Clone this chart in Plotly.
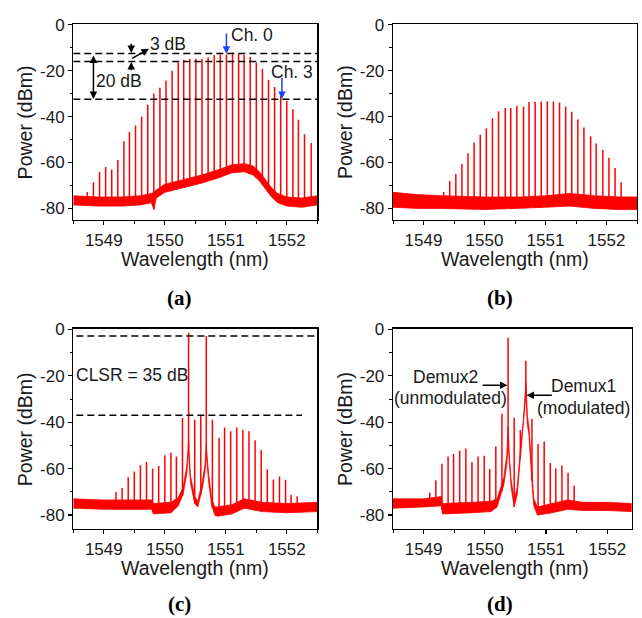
import numpy as np
import plotly.graph_objects as go

W, H = 642, 618
RED = "#ff0000"
BLUE = "#1f3fff"
FONT = "Liberation Sans, Arial, sans-serif"

# ---------------- data ----------------
x_tick_vals = [1549, 1550, 1551, 1552]
x_tick_text = ["1549", "1550", "1551", "1552"]
x_minor_vals = [1548.5, 1549.5, 1550.5, 1551.5, 1552.5]
y_tick_vals = [0, -20, -40, -60, -80]
y_tick_text = ["0", "-20", "-40", "-60", "-80"]
y_minor_vals = [-10, -30, -50, -70]

# (a) comb lines
wl_a = [1548.73, 1548.83, 1548.93, 1549.03, 1549.13, 1549.23, 1549.33, 1549.42, 1549.52,
        1549.62, 1549.72, 1549.82, 1549.92, 1550.02, 1550.12, 1550.22, 1550.31, 1550.41,
        1550.51, 1550.61, 1550.71, 1550.81, 1550.91, 1551.01, 1551.11, 1551.21, 1551.30,
        1551.40, 1551.50, 1551.60, 1551.70, 1551.80, 1551.90, 1552.00, 1552.10, 1552.19,
        1552.29, 1552.40]
pk_a = [-72.9, -68.6, -64.2, -62.0, -63.1, -58.9, -50.7, -46.7, -43.9, -40.0, -34.9, -29.9,
        -27.4, -24.3, -20.0, -16.4, -15.3, -14.9, -14.8, -14.8, -14.3, -13.2, -13.0, -13.0,
        -12.0, -12.6, -13.1, -14.1, -16.4, -19.2, -24.0, -27.1, -31.0, -33.1, -36.8, -41.4,
        -47.7, -51.5]
# (a) noise floor envelope
env_a_wl = [1548.5, 1548.9, 1549.3, 1549.6, 1549.78, 1549.82, 1549.86, 1550.0, 1550.3, 1550.6,
            1550.9, 1551.1, 1551.3, 1551.45, 1551.55, 1551.65, 1551.75, 1551.85, 1552.0,
            1552.25, 1552.5]
env_a_hi = [-74.5, -75, -75, -74.5, -73.5, -73, -72, -69.5, -67.5, -65.5, -63, -61, -60.5,
            -61.5, -64, -67.5, -71, -73.5, -75, -75.5, -74.5]
env_a_lo = [-78.5, -79, -79, -78.5, -77.5, -80.5, -75.5, -73, -71, -69, -66.5, -64.5, -64,
            -65.5, -68, -71.5, -75, -77.5, -79, -79.5, -78.5]
ref_a = [-12.5, -16.0, -32.5]

# (b) comb lines
wl_b = [1549.33, 1549.43, 1549.53, 1549.63, 1549.73, 1549.83, 1549.93, 1550.03, 1550.13,
        1550.23, 1550.34, 1550.43, 1550.53, 1550.64, 1550.73, 1550.83, 1550.93, 1551.03,
        1551.13, 1551.23, 1551.33, 1551.43, 1551.53, 1551.63, 1551.74, 1551.83, 1551.94,
        1552.04, 1552.14, 1552.24]
pk_b = [-72.9, -68.1, -65.0, -60.6, -56.0, -51.3, -47.9, -45.1, -40.7, -37.7, -36.3, -36.3,
        -35.4, -35.7, -33.7, -33.6, -33.4, -33.3, -33.4, -33.9, -35.6, -37.9, -41.3, -44.8,
        -48.6, -51.7, -54.6, -57.9, -62.4, -68.6]
env_b_wl = [1548.5, 1548.9, 1549.3, 1550.0, 1550.6, 1551.0, 1551.4, 1551.8, 1552.2, 1552.5]
env_b_hi = [-73, -74, -74.5, -75, -75, -74.5, -73.5, -74.5, -75, -75]
env_b_lo = [-79.5, -80, -80, -80.5, -80, -79.5, -79, -80, -80.5, -80.5]

# (c) comb lines
wl_c = [1549.20, 1549.30, 1549.40, 1549.50, 1549.60, 1549.70, 1549.80, 1549.90, 1550.00,
        1550.10, 1550.19, 1550.29, 1550.39, 1550.49, 1550.59, 1550.68, 1550.78, 1550.89,
        1550.98, 1551.08, 1551.18, 1551.28, 1551.38, 1551.48, 1551.58, 1551.68, 1551.78,
        1551.88, 1551.98, 1552.07, 1552.17]
pk_c = [-70.1, -68.3, -63.7, -61.2, -58.5, -57.1, -59.9, -58.8, -54.2, -53.1, -54.8, -38.2,
        -1.4, -38.9, -37.1, -2.8, -38.9, -46.7, -42.2, -43.9, -42.2, -43.2, -43.9, -47.7,
        -52.0, -60.2, -64.7, -63.4, -64.8, -71.2, -71.9]
env_c_wl = [1548.5, 1549.0, 1549.5, 1549.79, 1549.81, 1550.1, 1550.22, 1550.30, 1550.36,
            1550.39, 1550.42, 1550.49, 1550.54, 1550.62, 1550.66, 1550.68, 1550.72, 1550.77,
            1550.82, 1550.86, 1551.1, 1551.3, 1551.6, 1552.0, 1552.5]
env_c_hi = [-73, -73.5, -73.5, -73.5, -75, -74.5, -72.5, -68, -59, -48, -63, -72, -74, -65,
            -58, -50, -63, -73, -76.5, -76.5, -75.5, -73, -74.5, -75, -74.5]
env_c_lo = [-77, -77.5, -77.5, -77.5, -79.5, -79, -76, -71, -62, -52, -66, -75, -76.5, -68,
            -61, -54, -66, -76, -80, -80.5, -79.5, -77, -78.5, -79, -78.5]
ref_c = [-2.8, -37.0]

# (d) comb lines
wl_d = [1549.10, 1549.20, 1549.30, 1549.40, 1549.49, 1549.59, 1549.69, 1549.79, 1549.89,
        1549.99, 1550.08, 1550.18, 1550.28, 1550.38, 1550.48, 1550.58, 1550.67, 1550.77,
        1550.87, 1550.97, 1551.07, 1551.16, 1551.26, 1551.36, 1551.46]
pk_d = [-70.3, -65.0, -57.9, -54.8, -53.7, -52.3, -51.3, -57.2, -54.8, -54.4, -60.1, -50.4,
        -36.3, -3.6, -38.1, -43.3, -13.5, -38.5, -49.4, -48.3, -57.5, -59.8, -58.6, -61.8,
        -67.2]
env_d_wl = [1548.5, 1549.0, 1549.29, 1549.31, 1549.8, 1550.1, 1550.20, 1550.31, 1550.36,
            1550.38, 1550.40, 1550.43, 1550.48, 1550.53, 1550.585, 1550.63, 1550.655, 1550.673,
            1550.695, 1550.72, 1550.75, 1550.776, 1550.80, 1550.86, 1551.1, 1551.35, 1551.6,
            1552.0, 1552.4]
env_d_hi = [-73, -73, -72, -75, -74.5, -74, -73, -64, -54, -42, -54, -65, -73.5, -68, -51, -39,
            -29, -23, -37, -42, -53, -65, -73, -76.5, -75, -73.5, -74.5, -74.5, -75]
env_d_lo = [-77, -76.5, -76, -79.5, -79, -78.5, -76.5, -67, -58, -49, -58, -68, -76.5, -71, -54,
            -42, -33, -28, -41, -45, -56, -68, -76, -80, -79, -77.5, -78, -78, -78.5]

# ---------------- layout geometry (pixels) ----------------
def px_x(p):
    return p / W

def px_y(p):
    return 1 - p / H

panels = [
    dict(wl=wl_a, pk=pk_a, ew=env_a_wl, eh=env_a_hi, el=env_a_lo,
         xd=(73.3, 317.3), yd=(15.5, 214.0), xr=(1548.5, 1552.5), yr=(-85, 0.2),
         label="(a)", label_y=293.3),
    dict(wl=wl_b, pk=pk_b, ew=env_b_wl, eh=env_b_hi, el=env_b_lo,
         xd=(393.0, 637.0), yd=(15.5, 214.0), xr=(1548.5, 1552.5), yr=(-85, 0.2),
         label="(b)", label_y=293.3),
    dict(wl=wl_c, pk=pk_c, ew=env_c_wl, eh=env_c_hi, el=env_c_lo,
         xd=(73.3, 317.3), yd=(324.5, 527.7), xr=(1548.5, 1552.5), yr=(-86, 0.3),
         label="(c)", label_y=604.0),
    dict(wl=wl_d, pk=pk_d, ew=env_d_wl, eh=env_d_hi, el=env_d_lo,
         xd=(393.0, 631.7), yd=(324.5, 527.7), xr=(1548.5, 1552.4), yr=(-86, 0.3),
         label="(d)", label_y=604.0),
]

fig = go.Figure()
annotations = []
shapes = []

tickfont = dict(family=FONT, size=17, color="#1a1a1a")

for i, p in enumerate(panels):
    n = "" if i == 0 else str(i + 1)
    xa, ya = "x" + n, "y" + n
    # noise floor band
    fig.add_trace(go.Scatter(
        x=list(p["ew"]) + list(p["ew"])[::-1],
        y=list(p["eh"]) + list(p["el"])[::-1],
        fill="toself", fillcolor=RED, mode="lines",
        line=dict(color=RED, width=0.8), xaxis=xa, yaxis=ya,
        showlegend=False, hoverinfo="skip"))
    # comb lines
    base = np.interp(p["wl"], p["ew"], p["el"])
    xs, ys = [], []
    for w, pk, b in zip(p["wl"], p["pk"], base):
        xs += [w, w, None]
        ys += [b, pk, None]
    fig.add_trace(go.Scatter(x=xs, y=ys, mode="lines",
                             line=dict(color=RED, width=1.5),
                             xaxis=xa, yaxis=ya, showlegend=False, hoverinfo="skip"))

    axis_common = dict(showline=True, mirror=True, linecolor="black", linewidth=1.3,
                       showgrid=False, zeroline=False, ticks="outside", ticklen=4,
                       tickwidth=1.2, tickcolor="black", tickfont=tickfont)
    fig.layout["xaxis" + n] = dict(
        domain=[px_x(p["xd"][0]), px_x(p["xd"][1])], range=list(p["xr"]),
        anchor=ya, tickmode="array", tickvals=x_tick_vals, ticktext=x_tick_text,
        minor=dict(tickvals=x_minor_vals, ticks="outside", ticklen=2.5, tickcolor="black",
                   tickwidth=1),
        **axis_common)
    fig.layout["yaxis" + n] = dict(
        domain=[px_y(p["yd"][1]), px_y(p["yd"][0])], range=list(p["yr"]),
        anchor=xa, tickmode="array", tickvals=y_tick_vals, ticktext=y_tick_text,
        minor=dict(tickvals=y_minor_vals, ticks="outside", ticklen=2.5, tickcolor="black",
                   tickwidth=1),
        **axis_common)

    yc = (p["yd"][0] + p["yd"][1]) / 2
    annotations.append(dict(text="Wavelength (nm)", xref="paper", yref="paper",
                            x=px_x(p["xd"][0] + 122), y=px_y(p["yd"][1] + 39.5),
                            showarrow=False, xanchor="center", yanchor="middle",
                            font=dict(family=FONT, size=19.5, color="#1a1a1a")))
    annotations.append(dict(text="Power (dBm)", xref="paper", yref="paper",
                            x=px_x(p["xd"][0] - 48), y=px_y(yc), textangle=-90,
                            showarrow=False, xanchor="center", yanchor="middle",
                            font=dict(family=FONT, size=19.5, color="#1a1a1a")))
    annotations.append(dict(text="<b>" + p["label"] + "</b>", xref="paper", yref="paper",
                            x=px_x(p["xd"][0] + 106.5), y=px_y(p["label_y"]),
                            showarrow=False, xanchor="center", yanchor="middle",
                            font=dict(family="Liberation Serif, Times New Roman, serif",
                                      size=21, color="black")))

dash = "7px,4px"
# (a) reference lines
for lvl in ref_a:
    shapes.append(dict(type="line", xref="x", yref="y", x0=1548.5, x1=1552.5, y0=lvl, y1=lvl,
                       line=dict(color="black", width=1.5, dash=dash)))
# (c) reference lines
shapes.append(dict(type="line", xref="x3", yref="y3", x0=1548.55, x1=1552.5, y0=ref_c[0],
                   y1=ref_c[0], line=dict(color="black", width=1.5, dash=dash)))
shapes.append(dict(type="line", xref="x3", yref="y3", x0=1548.55, x1=1552.25, y0=ref_c[1],
                   y1=ref_c[1], line=dict(color="black", width=1.5, dash=dash)))

txt = dict(family=FONT, size=17.5, color="#1a1a1a")

def arrow(xr, yr, x, y, ax, ay, color="black", both=False, head=2):
    d = dict(xref=xr, yref=yr, axref=xr, ayref=yr, x=x, y=y, ax=ax, ay=ay, text="",
             showarrow=True, arrowhead=head, arrowsize=1, arrowwidth=1.5, arrowcolor=color)
    if both:
        d["arrowside"] = "end+start"
        d["startarrowhead"] = head
    return d

# (a) annotations
annotations += [
    dict(xref="x", yref="y", x=1551.05, y=-4.6, text="Ch. 0", showarrow=False,
         xanchor="left", yanchor="middle", font=txt),
    dict(xref="x", yref="y", x=1552.09, y=-20.7, text="Ch. 3", showarrow=False,
         xanchor="center", yanchor="middle", font=txt),
    arrow("x", "y", 1551.01, -12.6, 1551.01, -3.2, color=BLUE),
    arrow("x", "y", 1551.92, -32.3, 1551.92, -22.5, color=BLUE),
    dict(xref="x", yref="y", x=1549.73, y=-8.6, text="3 dB", showarrow=False,
         xanchor="left", yanchor="middle", font=txt),
    dict(xref="x", yref="y", x=1549.25, y=-24.6, text="20 dB", showarrow=False,
         xanchor="center", yanchor="middle", font=txt),
    arrow("x", "y", 1549.45, -12.3, 1549.45, -7.6, head=2),
    arrow("x", "y", 1549.45, -16.2, 1549.45, -20.5, head=2),
    arrow("x", "y", 1549.74, -10.5, 1549.44, -15.0, head=2),
    arrow("x", "y", 1548.83, -32.3, 1548.83, -12.7, both=True, head=2),
]
# (c) annotations
annotations.append(dict(xref="x3", yref="y3", x=1548.51, y=-19.8, text="CLSR = 35 dB",
                        showarrow=False, xanchor="left", yanchor="middle", font=txt))
# (d) annotations
annotations += [
    dict(xref="x4", yref="y4", x=1549.36, y=-20.4, text="Demux2", showarrow=False,
         xanchor="center", yanchor="middle", font=txt),
    dict(xref="x4", yref="y4", x=1549.44, y=-29.6, text="(unmodulated)", showarrow=False,
         xanchor="center", yanchor="middle", font=txt),
    arrow("x4", "y4", 1550.37, -24.0, 1549.94, -24.0),
    dict(xref="x4", yref="y4", x=1551.61, y=-24.4, text="Demux1", showarrow=False,
         xanchor="center", yanchor="middle", font=txt),
    dict(xref="x4", yref="y4", x=1551.62, y=-33.9, text="(modulated)", showarrow=False,
         xanchor="center", yanchor="middle", font=txt),
    arrow("x4", "y4", 1550.68, -28.3, 1551.12, -28.3),
]

fig.update_layout(width=W, height=H, margin=dict(l=0, r=0, t=0, b=0),
                  paper_bgcolor="white", plot_bgcolor="white", showlegend=False,
                  annotations=annotations, shapes=shapes, font=dict(family=FONT))

# pin the figure to the page's top-left corner (remove default page margins)
pin_js = ("document.body.style.margin='0';"
          "var gd=document.querySelector('.plotly-graph-div');"
          "gd.style.position='fixed';gd.style.left='0px';gd.style.top='0px';")
fig.write_html("out.html", post_script=pin_js,
               config={"displayModeBar": False, "staticPlot": True})
